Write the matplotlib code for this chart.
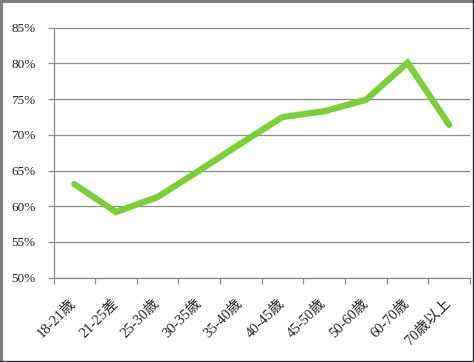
import matplotlib
matplotlib.use("Agg")
import matplotlib.pyplot as plt
from matplotlib.lines import Line2D

categories = ["18-21歳", "21-25差", "25-30歳", "30-35歳", "35-40歳",
              "40-45歳", "45-50歳", "50-60歳", "60-70歳", "70歳以上"]
values = [63.1, 59.2, 61.3, 65.0, 68.8, 72.5, 73.3, 74.9, 80.1, 71.4]
yticks = [50, 55, 60, 65, 70, 75, 80, 85]
ytick_labels = ["50%", "55%", "60%", "65%", "70%", "75%", "80%", "85%"]

fam = ["Liberation Serif", "Noto Sans CJK JP"]
plt.rcParams["font.family"] = fam

W, H = 474, 362
fig = plt.figure(figsize=(W / 100, H / 100), dpi=100)
ax = fig.add_axes([53.5 / W, 1 - 277.7 / H, (470 - 53.5) / W, (277.7 - 27.7) / H])

x = list(range(len(categories)))
ax.plot(x, values, color="#7dcf3a", lw=4.6, solid_capstyle="round",
        solid_joinstyle="miter", zorder=3)

ax.set_xlim(-0.5, len(categories) - 0.5)
ax.set_ylim(50, 85)
ax.set_yticks(yticks)
ax.set_yticklabels(ytick_labels, fontsize=9.5, color="#222222")
ax.yaxis.grid(True, color="#8c8c8c", lw=0.9)
ax.set_axisbelow(True)

ax.set_xticks(x)
ax.set_xticklabels(categories, rotation=45, ha="right", va="center",
                   rotation_mode="anchor", fontsize=10.5, color="#222222")
ax.set_xticks([i - 0.5 for i in range(len(categories) + 1)], minor=True)
ax.tick_params(axis="x", which="major", length=0, pad=17)
ax.tick_params(axis="x", which="minor", length=4, width=0.9, color="#8c8c8c", direction="out")
ax.tick_params(axis="y", length=4, width=0.9, color="#8c8c8c", pad=9, direction="out")

for s in ["top", "right"]:
    ax.spines[s].set_visible(False)
for s in ["left", "bottom"]:
    ax.spines[s].set_color("#8c8c8c")
    ax.spines[s].set_linewidth(0.9)

# outer frame
def fl(x0, y0, x1, y1, c, lw):
    fig.add_artist(Line2D([x0 / W, x1 / W], [1 - y0 / H, 1 - y1 / H],
                          color=c, lw=lw, transform=fig.transFigure))

fl(0, 1, 473, 1, "#7f7f7f", 2.2)
fl(1, 0, 1, 361, "#7f7f7f", 2.2)
fl(472.5, 0, 472.5, 361, "#303030", 1.0)
fl(0, 360.5, 473, 360.5, "#303030", 1.0)

fig.savefig("out.png", dpi=100)
